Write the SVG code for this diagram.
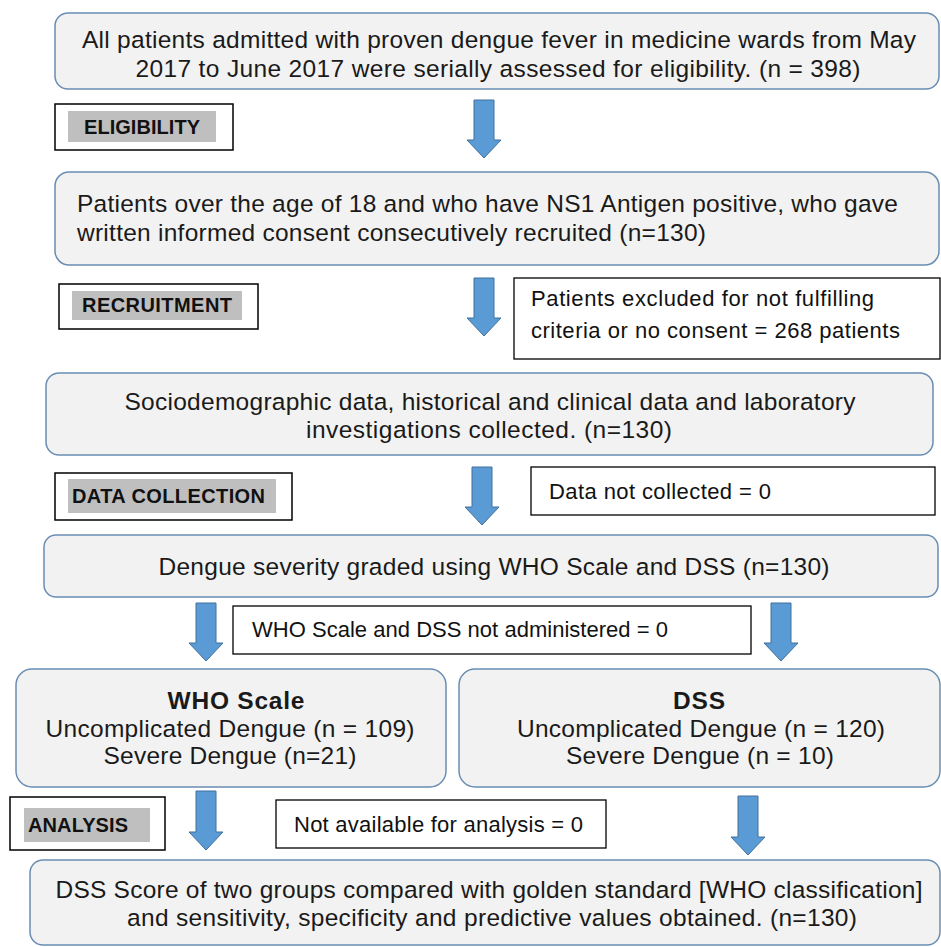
<svg xmlns="http://www.w3.org/2000/svg" width="941" height="947" viewBox="0 0 941 947">
<style>
.node{fill:#f2f2f2;stroke:#6a8db4;stroke-width:1.5}
.lbl{fill:#fff;stroke:#000;stroke-width:1.5}
.lblin{fill:#bfbfbf}
.side{fill:#fff;stroke:#000;stroke-width:1.3}
.t{font-family:"Liberation Sans",Arial,sans-serif;font-size:24.5px;fill:#1a1a1a}
.c{text-anchor:middle}
.b{font-weight:bold}
.lt{font-family:"Liberation Sans",Arial,sans-serif;font-size:20px;font-weight:bold;fill:#111}
.st{font-family:"Liberation Sans",Arial,sans-serif;font-size:22px;fill:#111}
.arr{fill:#5b9bd5;stroke:#41719c;stroke-width:1}
</style>
<rect width="941" height="947" fill="#fff"/>

<g id="n1"><rect class="node" x="55" y="13" width="884" height="76" rx="13"/>
<text class="t c" x="499" y="48" textLength="834">All patients admitted with proven dengue fever in medicine wards from May</text>
<text class="t c" x="498" y="77" textLength="725">2017 to June 2017 were serially assessed for eligibility. (n = 398)</text></g>

<g id="l1"><rect class="lbl" x="55" y="104" width="178" height="46"/><rect class="lblin" x="68" y="111" width="148" height="31"/>
<text class="lt" x="84" y="134" textLength="116">ELIGIBILITY</text></g>

<g id="n2"><rect class="node" x="55" y="172" width="884" height="93" rx="14"/>
<text class="t" x="77" y="212" textLength="821">Patients over the age of 18 and who have NS1 Antigen positive, who gave</text>
<text class="t" x="77" y="241" textLength="629">written informed consent consecutively recruited (n=130)</text></g>

<g id="l2"><rect class="lbl" x="59" y="284" width="199" height="45"/><rect class="lblin" x="72" y="291" width="170" height="29"/>
<text class="lt" x="82" y="312" textLength="150">RECRUITMENT</text></g>

<g id="s1"><rect class="side" x="514" y="278" width="426" height="81"/>
<text class="st" x="531" y="306" textLength="343">Patients excluded for not fulfilling</text>
<text class="st" x="531" y="338" textLength="369">criteria or no consent = 268 patients</text></g>

<g id="n3"><rect class="node" x="46" y="373" width="887" height="82" rx="13"/>
<text class="t c" x="490" y="410" textLength="731">Sociodemographic data, historical and clinical data and laboratory</text>
<text class="t c" x="489" y="438" textLength="366">investigations collected.  (n=130)</text></g>

<g id="l3"><rect class="lbl" x="55" y="473" width="237" height="47"/><rect class="lblin" x="68" y="479" width="208" height="34"/>
<text class="lt" x="72" y="503" textLength="193">DATA COLLECTION</text></g>

<g id="s2"><rect class="side" x="531" y="467" width="404" height="48"/>
<text class="st" x="549" y="499" textLength="222">Data not collected = 0</text></g>

<g id="n4"><rect class="node" x="44" y="535" width="894" height="62" rx="12"/>
<text class="t c" x="494" y="575" textLength="671">Dengue severity graded using WHO Scale and DSS (n=130)</text></g>

<g id="s3"><rect class="side" x="233" y="606" width="518" height="48"/>
<text class="st" x="252" y="637" textLength="416">WHO Scale and DSS not administered = 0</text></g>

<g id="n5"><rect class="node" x="16" y="669" width="430" height="118" rx="16"/>
<text class="t c b" x="236" y="709" textLength="137">WHO Scale</text>
<text class="t c" x="230" y="737" textLength="369">Uncomplicated Dengue (n = 109)</text>
<text class="t c" x="230" y="764" textLength="253">Severe Dengue (n=21)</text></g>

<g id="n6"><rect class="node" x="459" y="669" width="481" height="118" rx="16"/>
<text class="t c b" x="699" y="709" textLength="52">DSS</text>
<text class="t c" x="701" y="737" textLength="368">Uncomplicated Dengue (n = 120)</text>
<text class="t c" x="700" y="764" textLength="268">Severe Dengue (n = 10)</text></g>

<g id="l4"><rect class="lbl" x="10" y="797" width="155" height="53"/><rect class="lblin" x="24" y="808" width="126" height="34"/>
<text class="lt" x="28" y="832" textLength="100">ANALYSIS</text></g>

<g id="s4"><rect class="side" x="276" y="800" width="330" height="48"/>
<text class="st" x="294" y="832" textLength="289">Not available for analysis = 0</text></g>

<g id="n7"><rect class="node" x="30" y="860" width="910" height="85" rx="13"/>
<text class="t c" x="489" y="898" textLength="867">DSS Score of two groups compared with golden standard [WHO classification]</text>
<text class="t c" x="492" y="926" textLength="730">and sensitivity, specificity and predictive values obtained. (n=130)</text></g>

<g id="connectors">
<path class="arr" d="M474,100 H494 V140 H501 L484,158 L467,140 H474 Z"/>
<path class="arr" d="M474,278 H494 V318 H501 L484,336 L467,318 H474 Z"/>
<path class="arr" d="M472,467 H492 V507 H499 L482,525 L465,507 H472 Z"/>
<path class="arr" d="M196,603 H216 V643 H223 L206,661 L189,643 H196 Z"/>
<path class="arr" d="M771,603 H791 V643 H798 L781,661 L764,643 H771 Z"/>
<path class="arr" d="M196,791 H216 V832 H223 L206,850 L189,832 H196 Z"/>
<path class="arr" d="M738,796 H758 V837 H765 L748,855 L731,837 H738 Z"/>
</g>
</svg>
